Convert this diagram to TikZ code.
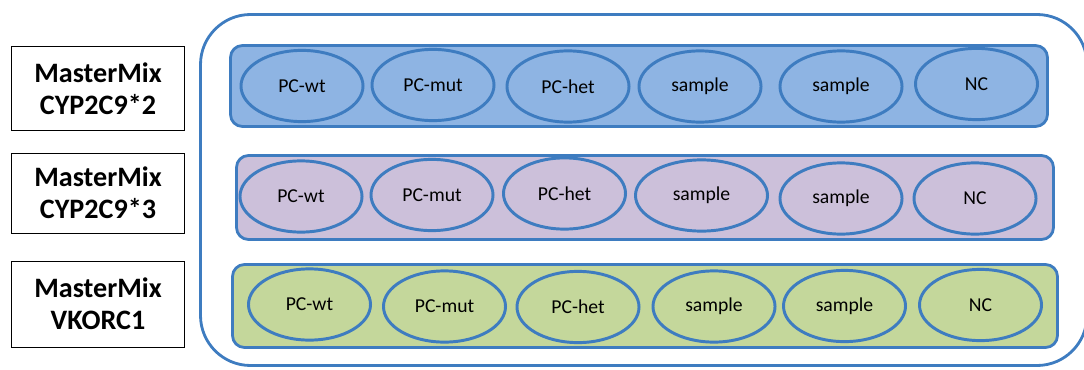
\documentclass[tikz,border=0pt]{standalone}
\usepackage{fontspec}
\setmainfont{Carlito}
\usetikzlibrary{shapes.geometric}
\definecolor{wellblue}{RGB}{62,124,192}
\definecolor{rowblue}{RGB}{142,180,227}
\definecolor{rowlilac}{RGB}{204,192,218}
\definecolor{rowgreen}{RGB}{196,215,155}

\begin{document}
\begin{tikzpicture}[x=0.025cm, y=-0.025cm,
	mixbox/.style={draw=black, line width=0.7pt, fill=white, align=center, inner sep=0pt,
		minimum width=4.3cm, font=\fontsize{20}{23}\selectfont\bfseries},
	strip/.style={draw=wellblue, line width=2pt, rounded corners=0.3cm},
	well/.style={ellipse, draw=wellblue, line width=2.1pt, inner sep=0pt,
		minimum width=3.05cm, minimum height=1.78cm, font=\fontsize{14}{16}\selectfont}]
			%%%%% START %%%%%
			
			\useasboundingbox (0, 0) rectangle (1084, 369);
			
			\draw[line width=2pt, color=wellblue, rounded corners=1.25cm] (200.5, 14.5) rectangle (1087, 365.5);
			
			\node[mixbox, minimum height=2.075cm] (mixA) at (98, 88.5) {MasterMix\\CYP2C9*2};
			\node[mixbox, minimum height=2cm] (mixB) at (98, 193) {MasterMix\\CYP2C9*3};
			\node[mixbox, minimum height=2.15cm] (mixC) at (98, 304) {MasterMix\\VKORC1};
			
			\draw[strip, fill=rowblue] (230.5, 45.5) rectangle (1047.5, 126.5);
			\draw[strip, fill=rowlilac] (236.5, 155.5) rectangle (1053.5, 239.5);
			\draw[strip, fill=rowgreen] (232.5, 264.5) rectangle (1057.5, 347.5);
			
			\node[well] (wtA) at (302, 86) {PC-wt};
			\node[well] (mutA) at (433, 85) {PC-mut};
			\node[well] (hetA) at (568, 86.5) {PC-het};
			\node[well] (sA) at (700, 86.5) {sample};
			\node[well] (sA2) at (841, 86.5) {sample};
			\node[well] (ncA) at (976.5, 84) {NC};
			
			\node[well] (wtB) at (301, 196.5) {PC-wt};
			\node[well] (mutB) at (432, 195) {PC-mut};
			\node[well] (hetB) at (564.5, 193.5) {PC-het};
			\node[well, minimum width=3.3cm] (sB) at (701.5, 195.5) {sample};
			\node[well] (sB2) at (841, 198.5) {sample};
			\node[well] (ncB) at (975, 198.5) {NC};
			
			\node[well] (wtC) at (309.5, 304.5) {PC-wt};
			\node[well] (mutC) at (444.5, 306.5) {PC-mut};
			\node[well] (hetC) at (578, 307) {PC-het};
			\node[well] (sC) at (714, 306.5) {sample};
			\node[well] (sC2) at (844.5, 306) {sample};
			\node[well] (ncC) at (980.5, 305) {NC};
			
			%%%%% END %%%%%
		\end{tikzpicture}
\end{document}
